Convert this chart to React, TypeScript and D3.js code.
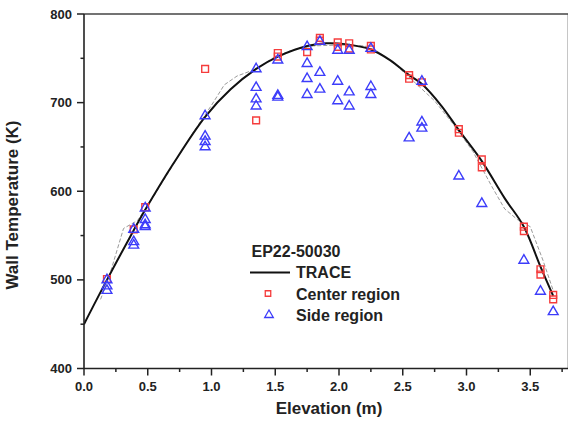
import React from "react";
import * as d3 from "d3";

const W = 568;
const H = 425;

// TRACE calculation (solid black)
const traceX = [0, 0.18, 0.39, 0.48, 0.7, 0.95, 1.15, 1.35, 1.52, 1.75, 1.9, 2.05, 2.25, 2.4, 2.55, 2.65, 2.8, 2.94, 3.12, 3.3, 3.45, 3.58, 3.68];
const traceY = [450, 500, 556, 579, 631, 684, 715, 738, 752, 764, 767, 766, 760, 748, 731, 721, 697, 669, 634, 592, 560, 515, 482];

// secondary grey dashed curve
const dashX = [0.13, 0.2, 0.31, 0.42, 0.55, 0.7, 0.85, 1.0, 1.1, 1.2, 1.35, 1.5, 1.65, 1.8, 2.0, 2.2, 2.3, 2.45, 2.6, 2.75, 2.9, 3.05, 3.2, 3.3, 3.4, 3.5, 3.6, 3.68];
const dashY = [478, 505, 558, 567, 595, 630, 665, 697, 720, 730, 738, 752, 760, 764, 765, 764, 758, 742, 722, 702, 675, 645, 605, 580, 568, 560, 522, 488];

// Center region (red squares)
const centerX = [0.18, 0.39, 0.48, 0.95, 1.35, 1.52, 1.52, 1.75, 1.85, 1.85, 1.99, 1.99, 2.08, 2.08, 2.25, 2.25, 2.55, 2.55, 2.65, 2.94, 2.94, 3.12, 3.12, 3.45, 3.45, 3.58, 3.58, 3.68, 3.68];
const centerY = [501, 557, 582, 738, 680, 756, 752, 757, 773, 770, 768, 763, 767, 761, 764, 760, 731, 727, 723, 670, 666, 636, 627, 560, 555, 512, 506, 483, 478];

// Side region (blue triangles)
const sideX = [0.18, 0.18, 0.18, 0.39, 0.39, 0.39, 0.48, 0.48, 0.48, 0.48, 0.95, 0.95, 0.95, 0.95, 1.35, 1.35, 1.35, 1.35, 1.52, 1.52, 1.52, 1.75, 1.75, 1.75, 1.75, 1.85, 1.85, 1.85, 1.99, 1.99, 1.99, 2.08, 2.08, 2.08, 2.25, 2.25, 2.25, 2.55, 2.65, 2.65, 2.65, 2.94, 3.12, 3.45, 3.58, 3.68];
const sideY = [500, 493, 488, 557, 543, 539, 581, 568, 562, 560, 685, 662, 656, 650, 738, 717, 704, 696, 748, 708, 706, 763, 744, 727, 709, 769, 734, 715, 759, 724, 702, 759, 712, 696, 761, 718, 709, 660, 724, 678, 671, 617, 586, 522, 487, 464];

const xMajor = [0, 0.5, 1.0, 1.5, 2.0, 2.5, 3.0, 3.5];
const xMinor = [0.25, 0.75, 1.25, 1.75, 2.25, 2.75, 3.25, 3.75];
const yMajor = [400, 500, 600, 700, 800];
const yMinor = [450, 550, 650, 750];

const xTitle = "Elevation (m)";
const yTitle = "Wall Temperature (K)";
const legendTitle = "EP22-50030";
const seriesNames = ["TRACE", "Center region", "Side region"];

const RED = "#f53c3c";
const BLUE = "#3c3cfa";
const FONT = "'Liberation Sans', Arial, Helvetica, sans-serif";

export default function App() {
  const x = d3.scaleLinear().domain([0, 3.8]).range([84, 568.5]);
  const y = d3.scaleLinear().domain([400, 800]).range([368.5, 14]);

  const tracePath = d3
    .line<number>()
    .x((_, i) => x(traceX[i]))
    .y((_, i) => y(traceY[i]))
    .curve(d3.curveCatmullRom.alpha(0.5))(traceX) as string;

  const dashPath = d3
    .line<number>()
    .x((_, i) => x(dashX[i]))
    .y((_, i) => y(dashY[i]))
    .curve(d3.curveLinear)(dashX) as string;

  const sq = d3.symbol(d3.symbolSquare, 46)() as string;
  const tri = d3.symbol(d3.symbolTriangle, 42)() as string;
  const sqL = d3.symbol(d3.symbolSquare, 30)() as string;
  const triL = d3.symbol(d3.symbolTriangle, 32)() as string;

  const x0 = x(0);
  const y0 = y(400);
  const yTop = y(800);
  const xRight = x(3.8);

  return (
    <svg
      width={W}
      height={H}
      style={{ position: "absolute", left: 0, top: 0, background: "#fff" }}
      fontFamily={FONT}
    >
      <rect x={0} y={0} width={W} height={H} fill="#fff" />
      <defs>
        <clipPath id="plot">
          <rect x={x0} y={yTop} width={xRight - x0} height={y0 - yTop} />
        </clipPath>
      </defs>

      {/* grey dashed curve */}
      <path d={dashPath} fill="none" stroke="#9a9a9a" strokeWidth={1} strokeDasharray="4,2" clipPath="url(#plot)" />
      {/* TRACE */}
      <path d={tracePath} fill="none" stroke="#111" strokeWidth={2} clipPath="url(#plot)" />

      {/* center squares */}
      {centerX.map((v, i) => (
        <path key={"c" + i} d={sq} transform={`translate(${x(v)},${y(centerY[i])})`} fill="none" stroke={RED} strokeWidth={1.4} />
      ))}
      {/* side triangles */}
      {sideX.map((v, i) => (
        <path key={"s" + i} d={tri} transform={`translate(${x(v)},${y(sideY[i])})`} fill="none" stroke={BLUE} strokeWidth={1.4} />
      ))}

      {/* frame */}
      <line x1={x0} x2={xRight} y1={yTop} y2={yTop} stroke="#444" strokeWidth={1.6} />
      <line x1={xRight} x2={xRight} y1={yTop} y2={y0} stroke="#444" strokeWidth={1.6} />
      <line x1={x0} x2={x0} y1={yTop} y2={y0} stroke="#222" strokeWidth={1.6} />
      <line x1={x0} x2={xRight} y1={y0} y2={y0} stroke="#222" strokeWidth={1.6} />

      {/* y ticks */}
      {yMajor.map((t) => (
        <g key={"ym" + t}>
          <line x1={x0 - 7} x2={x0} y1={y(t)} y2={y(t)} stroke="#222" strokeWidth={1.5} />
          <text x={72} y={y(t) + 4.6} textAnchor="end" fontSize={13} fontWeight="bold" fill="#222">
            {t}
          </text>
        </g>
      ))}
      {yMinor.map((t) => (
        <line key={"yn" + t} x1={x0 - 3.5} x2={x0} y1={y(t)} y2={y(t)} stroke="#222" strokeWidth={1.5} />
      ))}

      {/* x ticks */}
      {xMajor.map((t) => (
        <g key={"xm" + t}>
          <line x1={x(t)} x2={x(t)} y1={y0} y2={y0 + 7} stroke="#222" strokeWidth={1.5} />
          <text x={x(t)} y={391} textAnchor="middle" fontSize={13} fontWeight="bold" fill="#222">
            {t.toFixed(1)}
          </text>
        </g>
      ))}
      {xMinor.map((t) => (
        <line key={"xn" + t} x1={x(t)} x2={x(t)} y1={y0} y2={y0 + 3.5} stroke="#222" strokeWidth={1.5} />
      ))}

      {/* axis titles */}
      <text x={329} y={414} textAnchor="middle" fontSize={17} fontWeight="bold" fill="#222">
        {xTitle}
      </text>
      <text transform="translate(18,205) rotate(-90)" textAnchor="middle" fontSize={17} fontWeight="bold" fill="#222">
        {yTitle}
      </text>

      {/* legend */}
      <text x={251.5} y={256.5} fontSize={16} fontWeight="bold" fill="#222">
        {legendTitle}
      </text>
      <line x1={250} x2={290} y1={272.5} y2={272.5} stroke="#111" strokeWidth={2} />
      <text x={296} y={278.3} fontSize={16} fontWeight="bold" fill="#222">
        {seriesNames[0]}
      </text>
      <path d={sqL} transform="translate(268,293.5)" fill="none" stroke={RED} strokeWidth={1.3} />
      <text x={296} y={300} fontSize={16} fontWeight="bold" fill="#222">
        {seriesNames[1]}
      </text>
      <path d={triL} transform="translate(269,315)" fill="none" stroke={BLUE} strokeWidth={1.3} />
      <text x={296} y={321} fontSize={16} fontWeight="bold" fill="#222">
        {seriesNames[2]}
      </text>
    </svg>
  );
}
